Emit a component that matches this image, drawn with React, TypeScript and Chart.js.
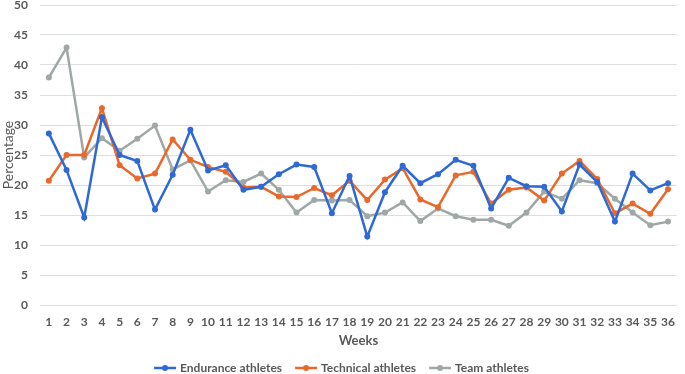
import React, { useEffect, useRef } from "react";
import { Chart, registerables } from "chart.js";

Chart.register(...registerables);

const weeks = Array.from({ length: 36 }, (_, i) => String(i + 1));

const endurance = [
  28.6, 22.5, 14.6, 31.3, 25.0, 24.0, 15.9, 21.7, 29.2, 22.4, 23.3, 19.2,
  19.7, 21.8, 23.4, 23.0, 15.3, 21.5, 11.4, 18.8, 23.2, 20.3, 21.8, 24.2,
  23.2, 16.1, 21.2, 19.8, 19.7, 15.6, 23.4, 20.5, 13.9, 21.9, 19.1, 20.3,
];
const technical = [
  20.7, 25.0, 25.0, 32.8, 23.3, 21.1, 21.9, 27.6, 24.2, 23.0, 22.2, 19.6,
  19.7, 18.1, 18.0, 19.5, 18.3, 20.7, 17.5, 20.9, 22.8, 17.6, 16.3, 21.6,
  22.2, 16.9, 19.2, 19.6, 17.4, 21.9, 24.0, 21.0, 15.3, 16.9, 15.2, 19.3,
];
const team = [
  37.9, 42.9, 24.6, 27.8, 25.7, 27.7, 29.9, 22.6, 24.1, 18.9, 20.8, 20.5,
  21.9, 19.2, 15.4, 17.5, 17.4, 17.5, 14.8, 15.4, 17.1, 14.0, 16.1, 14.8,
  14.2, 14.2, 13.2, 15.4, 18.9, 17.7, 20.8, 20.3, 17.7, 15.4, 13.3, 13.9,
];

const seriesNames = ["Endurance athletes", "Technical athletes", "Team athletes"];
const seriesColors = ["#2f69d4", "#e8692c", "#9fa8a6"];

const FONT = "Lato, 'Open Sans', sans-serif";
const TEXT = "#595959";

function legendMarker(color: string): HTMLCanvasElement {
  const c = document.createElement("canvas");
  c.width = 24;
  c.height = 8;
  const ctx = c.getContext("2d")!;
  ctx.strokeStyle = color;
  ctx.lineWidth = 2.5;
  ctx.beginPath();
  ctx.moveTo(1, 4);
  ctx.lineTo(23, 4);
  ctx.stroke();
  ctx.fillStyle = color;
  ctx.beginPath();
  ctx.arc(12, 4, 3, 0, Math.PI * 2);
  ctx.fill();
  return c;
}

export default function App() {
  const ref = useRef<HTMLCanvasElement | null>(null);

  useEffect(() => {
    if (!ref.current) return;
    const values = [endurance, technical, team];
    const markers = seriesColors.map(legendMarker);
    const chart = new Chart(ref.current, {
      type: "line",
      data: {
        labels: weeks,
        datasets: values.map((v, i) => ({
          label: seriesNames[i],
          data: v,
          borderColor: seriesColors[i],
          backgroundColor: seriesColors[i],
          borderWidth: 2.5,
          pointRadius: 3,
          pointBorderWidth: 0,
          pointHoverRadius: 3,
          tension: 0,
          fill: false,
        })),
      },
      options: {
        animation: false,
        responsive: false,
        maintainAspectRatio: false,
        layout: { padding: { top: 5, left: 0, right: 0, bottom: 0 } },
        plugins: {
          tooltip: { enabled: false },
          legend: {
            position: "bottom",
            labels: {
              usePointStyle: true,
              pointStyleWidth: 18,
              padding: 15,
              color: TEXT,
              font: { family: FONT, size: 12, weight: "bold" },
              generateLabels: (ch: any) =>
                ch.data.datasets.map((ds: any, i: number) => ({
                  text: ds.label,
                  fillStyle: ds.borderColor,
                  strokeStyle: ds.borderColor,
                  lineWidth: 0,
                  pointStyle: markers[i],
                  hidden: false,
                  datasetIndex: i,
                  fontColor: TEXT,
                })),
            },
          },
        },
        scales: {
          x: {
            offset: true,
            grid: { display: false, drawTicks: false },
            border: { display: false },
            afterFit: (axis: any) => {
              axis.height = 42;
            },
            ticks: {
              autoSkip: false,
              maxRotation: 0,
              padding: 10,
              color: TEXT,
              font: { family: FONT, size: 12, weight: "bold" },
            },
            title: {
              display: true,
              text: "Weeks",
              color: TEXT,
              padding: { top: 0, bottom: -2 },
              font: { family: FONT, size: 13, weight: "bold" },
            },
          },
          y: {
            min: 0,
            max: 50,
            grid: { color: "#dcdfe2", lineWidth: 1, drawTicks: false },
            border: { display: false },
            afterFit: (axis: any) => {
              axis.width = 40;
              axis.paddingTop = 0;
              axis.paddingBottom = 0;
            },
            ticks: {
              stepSize: 5,
              padding: 12,
              color: TEXT,
              font: { family: FONT, size: 12, weight: "bold" },
            },
            title: {
              display: true,
              text: "Percentage",
              color: TEXT,
              padding: { top: 0, bottom: 0 },
              font: { family: FONT, size: 14, weight: "normal" },
            },
          },
        },
      },
    });
    return () => chart.destroy();
  }, []);

  return (
    <div
      style={{
        position: "fixed",
        left: 0,
        top: 0,
        width: 685,
        height: 374,
        overflow: "hidden",
        background: "#ffffff",
      }}
    >
      <canvas ref={ref} width={685} height={384} style={{ display: "block" }} />
    </div>
  );
}
